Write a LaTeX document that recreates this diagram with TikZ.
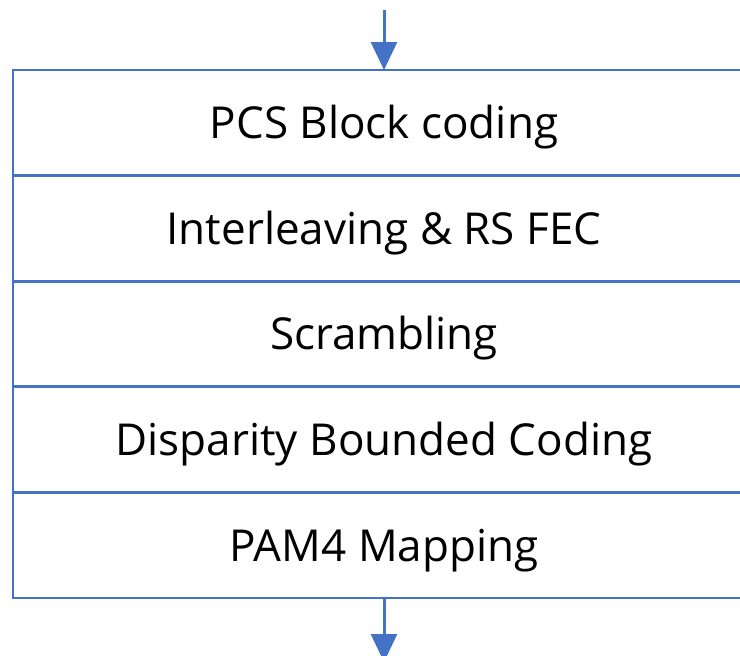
\documentclass[tikz,border=0pt]{standalone}
\usepackage{fontspec}
\setsansfont{Open Sans}
\usetikzlibrary{arrows.meta,positioning}
\definecolor{flowBlue}{HTML}{4472C4}

\begin{document}
\begin{tikzpicture}[x=0.5pt, y=-0.5pt,
  layer/.style={draw=flowBlue, line width=1.4pt, outer sep=0pt, minimum width=371pt, minimum height=52.8pt, text height=15.8pt, text depth=0pt, align=center, font=\sffamily\fontsize{22}{26}\selectfont, fill=white},
  flow/.style={-{Triangle[length=14pt,width=13pt]}, color=flowBlue, line width=1.5pt}
]
  \useasboundingbox (0,0) rectangle (740,655);
  \node[layer] (l1) at (384,122.8) {PCS Block coding};
  \node[layer, below=0pt of l1] (l2) {Interleaving \& RS FEC};
  \node[layer, below=0pt of l2] (l3) {Scrambling};
  \node[layer, below=0pt of l3] (l4) {Disparity Bounded Coding};
  \node[layer, below=0pt of l4] (l5) {PAM4 Mapping};

  \coordinate (in) at (384,10);
  \coordinate (out) at (384,662);
  \draw[flow] (in) -- (l1.north);
  \draw[flow] (l5.south) -- (out);
\end{tikzpicture}
\end{document}
